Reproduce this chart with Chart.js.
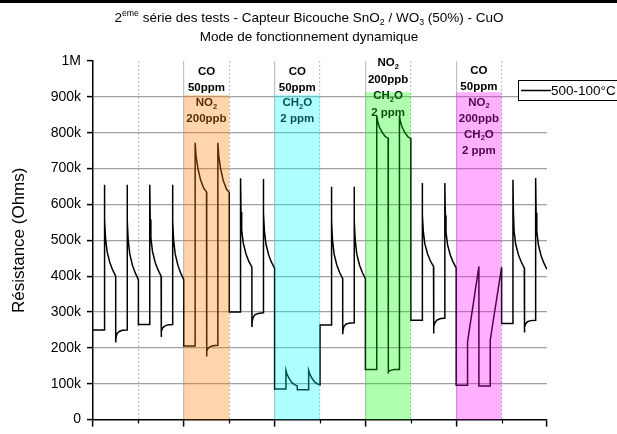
<!DOCTYPE html>
<html>
<head>
<meta charset="utf-8">
<script src="https://cdn.jsdelivr.net/npm/chart.js@4.4.1/dist/chart.umd.min.js"></script>
<style>
  html, body { margin: 0; padding: 0; background: #fff; }
  #wrap { position: relative; width: 617px; height: 434px; }
  #topRule { position: absolute; left: 0; top: 0; width: 617px; height: 3px; background: #000; }
</style>
</head>
<body>
<div id="wrap">
  <canvas id="capteurChart" width="617" height="434"></canvas>
  <div id="topRule"></div>
</div>
<script>
const FONT = "'Liberation Sans', Arial, sans-serif";

// Temps (unités de l'axe X) et résistance (kOhms), cycle 500-100°C
const temps = [
  0, 0.25,
  0.25, 0.26, 0.275, 0.31, 0.37, 0.43, 0.5,
  0.5, 0.51, 0.53, 0.57, 0.64, 0.75,
  0.75, 0.76, 0.775, 0.81, 0.87, 0.93, 1.0,
  1.0, 1.25,
  1.25, 1.26, 1.275, 1.31, 1.37, 1.43, 1.5,
  1.5, 1.51, 1.53, 1.57, 1.64, 1.75,
  1.75, 1.76, 1.775, 1.81, 1.87, 1.93, 2.0,
  2.0, 2.25,
  2.25, 2.27, 2.31, 2.37, 2.44, 2.5,
  2.5, 2.51, 2.53, 2.57, 2.64, 2.75,
  2.75, 2.77, 2.81, 2.87, 2.94, 3.0,
  3.0, 3.25,
  3.25, 3.26, 3.275, 3.31, 3.37, 3.43, 3.5,
  3.5, 3.51, 3.53, 3.57, 3.64, 3.75,
  3.75, 3.76, 3.775, 3.81, 3.87, 3.93, 4.0,
  4.0, 4.25,
  4.25, 4.27, 4.31, 4.38, 4.45, 4.5,
  4.5, 4.75,
  4.75, 4.77, 4.81, 4.88, 4.95, 5.0,
  5.0, 5.25,
  5.25, 5.26, 5.275, 5.31, 5.37, 5.43, 5.5,
  5.5, 5.51, 5.53, 5.57, 5.64, 5.75,
  5.75, 5.76, 5.775, 5.81, 5.87, 5.93, 6.0,
  6.0, 6.25,
  6.25, 6.27, 6.31, 6.37, 6.44, 6.5,
  6.5, 6.51, 6.53, 6.57, 6.64, 6.75,
  6.75, 6.77, 6.81, 6.87, 6.94, 7.0,
  7.0, 7.25,
  7.25, 7.26, 7.275, 7.31, 7.37, 7.43, 7.5,
  7.5, 7.51, 7.53, 7.57, 7.64, 7.75,
  7.75, 7.76, 7.775, 7.81, 7.87, 7.93, 8.0,
  8.0, 8.25,
  8.25, 8.5,
  8.5, 8.75,
  8.75, 9.0,
  9.0, 9.25,
  9.25, 9.26, 9.275, 9.31, 9.37, 9.43, 9.5,
  9.5, 9.51, 9.53, 9.57, 9.64, 9.75,
  9.75, 9.76, 9.775, 9.81, 9.87, 9.93, 10.0
];
const resistance = [
  250, 250,
  655, 558, 507, 469, 438, 418, 400,
  215, 231, 240, 245, 249, 250,
  655, 554, 501, 462, 430, 409, 390,
  265, 265,
  655, 558, 507, 469, 438, 418, 400,
  230, 246, 255, 260, 264, 265,
  655, 554, 501, 462, 430, 409, 390,
  205, 205,
  772, 735, 701, 668, 645, 635,
  176, 190, 198, 203, 206, 207,
  772, 735, 700, 666, 643, 633,
  300, 300,
  673, 579, 529, 492, 462, 442, 425,
  258, 276, 286, 293, 296, 298,
  671, 576, 527, 489, 459, 439, 422,
  85, 85,
  137, 128, 117, 103, 97, 94,
  83, 83,
  137, 129, 118, 105, 99, 97,
  264, 264,
  649, 552, 501, 462, 431, 411, 393,
  238, 252, 260, 266, 269, 270,
  649, 552, 501, 462, 431, 411, 393,
  140, 140,
  847, 832, 815, 801, 789, 785,
  128, 133, 136, 138, 140, 140,
  847, 832, 815, 800, 788, 784,
  277, 277,
  660, 571, 525, 490, 462, 443, 427,
  240, 259, 270, 277, 281, 283,
  660, 570, 523, 487, 459, 440, 423,
  96, 96,
  217, 427,
  94, 94,
  222, 425,
  268, 268,
  669, 576, 526, 489, 460, 440, 423,
  243, 258, 267, 273, 276, 277,
  674, 577, 526, 488, 457, 437, 419
];

// Zones d'injection des gaz
const bandStart = [2, 4, 6, 8];
const bandTop = [905, 905, 913, 913];
const bandGaz = [
  ['CO', '50ppm', 'NO_2', '200ppb'],
  ['CO', '50ppm', 'CH_2O', '2 ppm'],
  ['NO_2', '200ppb', 'CH_2O', '2 ppm'],
  ['CO', '50ppm', 'NO_2', '200ppb', 'CH_2O', '2 ppm']
];
const bandColors = ['rgba(255,128,0,0.33)', 'rgba(0,255,255,0.31)', 'rgba(0,255,0,0.31)', 'rgba(255,0,255,0.31)'];
const labelTop = [9.5, 9.5, 1, 9];
const labelGap = [15.9, 15.9, 16.6, 15.9];

const titreLignes = [
  '2^{eme} série des tests - Capteur Bicouche SnO_2 / WO_3 (50%) - CuO',
  'Mode de fonctionnement dynamique'
];

// petit parseur: _2 ou _{..} = indice, ^{..} = exposant
function parseRich(str) {
  const parts = [];
  const re = /_\{([^}]*)\}|_(\w)|\^\{([^}]*)\}/g;
  let last = 0, m;
  while ((m = re.exec(str))) {
    if (m.index > last) parts.push([str.slice(last, m.index), 'n']);
    if (m[1] !== undefined) parts.push([m[1], 'sub']);
    else if (m[2] !== undefined) parts.push([m[2], 'sub']);
    else parts.push([m[3], 'sup']);
    last = re.lastIndex;
  }
  if (last < str.length) parts.push([str.slice(last), 'n']);
  return parts;
}

function drawRich(c, str, cx, cy, size, weight) {
  const parts = parseRich(str);
  const fontFor = t => `${weight} ${t === 'n' ? size : size * 0.65}px ${FONT}`;
  let w = 0;
  parts.forEach(p => { c.font = fontFor(p[1]); w += c.measureText(p[0]).width; });
  let x = cx - w / 2;
  c.textAlign = 'left';
  c.textBaseline = 'alphabetic';
  const base = cy + size * 0.36;
  parts.forEach(p => {
    c.font = fontFor(p[1]);
    const dy = p[1] === 'sub' ? size * 0.22 : (p[1] === 'sup' ? -size * 0.42 : 0);
    c.fillText(p[0], x, base + dy);
    x += c.measureText(p[0]).width;
  });
}

const decor = {
  id: 'decor',
  afterDatasetsDraw(chart) {
    const c = chart.ctx, xs = chart.scales.x, ys = chart.scales.y, area = chart.chartArea;
    c.save();

    // graduations secondaires
    c.strokeStyle = '#000';
    c.lineWidth = 1.2;
    c.beginPath();
    ys.ticks.forEach(t => {
      if (t.value % 100) {
        const y = Math.round(ys.getPixelForValue(t.value)) + 0.5;
        c.moveTo(area.left - 3, y); c.lineTo(area.left, y);
      }
    });
    xs.ticks.forEach(t => {
      if (t.value % 2) {
        const x = Math.round(xs.getPixelForValue(t.value)) + 0.5;
        c.moveTo(x, area.bottom); c.lineTo(x, area.bottom + 4);
      }
    });
    c.stroke();

    // étiquettes des gaz
    c.fillStyle = '#000';
    bandStart.forEach((s, i) => {
      const cx = (xs.getPixelForValue(s) + xs.getPixelForValue(s + 1)) / 2;
      bandGaz[i].forEach((txt, j) => {
        drawRich(c, txt, cx, area.top + labelTop[i] + j * labelGap[i], 11.5, 'bold');
      });
    });

    // voile coloré des zones d'injection
    bandStart.forEach((s, i) => {
      const x0 = xs.getPixelForValue(s), x1 = xs.getPixelForValue(s + 1);
      const y0 = ys.getPixelForValue(0), y1 = ys.getPixelForValue(bandTop[i]);
      c.fillStyle = bandColors[i];
      c.fillRect(x0, y1, x1 - x0, y0 - y1);
    });

    // légende encadrée
    const ds = chart.data.datasets[0];
    c.fillStyle = '#fff';
    c.fillRect(518.5, 80.5, 110, 20);
    c.strokeStyle = '#000';
    c.lineWidth = 1;
    c.strokeRect(518.5, 80.5, 110, 20);
    c.lineWidth = ds.borderWidth;
    c.beginPath(); c.moveTo(521, 90.5); c.lineTo(551, 90.5); c.stroke();
    c.fillStyle = '#000';
    c.font = `13.5px ${FONT}`;
    c.textAlign = 'left';
    c.textBaseline = 'middle';
    c.fillText(ds.label, 551, 91);

    // titre
    drawRich(c, titreLignes[0], 309, 17, 13.5, 'normal');
    drawRich(c, titreLignes[1], 309, 36.5, 13.5, 'normal');

    c.restore();
  }
};

Chart.defaults.font.family = FONT;
Chart.defaults.color = '#000';

const ctx = document.getElementById('capteurChart').getContext('2d');
new Chart(ctx, {
  type: 'line',
  data: {
    datasets: [{
      label: '500-100°C',
      data: temps.map((t, i) => ({ x: t, y: resistance[i] })),
      borderColor: '#000',
      borderWidth: 1.5,
      pointRadius: 0,
      tension: 0,
      fill: false
    }]
  },
  options: {
    responsive: false,
    animation: false,
    layout: { padding: { top: 61, right: 70, bottom: 1, left: 0 } },
    plugins: {
      legend: { display: false },
      tooltip: { enabled: false },
      title: { display: false }
    },
    scales: {
      x: {
        type: 'linear',
        min: 0,
        max: 10,
        ticks: { stepSize: 1, display: false },
        grid: {
          color: c => (c.tick.value === 0 || c.tick.value === 10) ? 'rgba(0,0,0,0)' : (c.tick.value % 2 ? '#c4c4c4' : '#c0c0c0'),
          lineWidth: 1.2,
          tickLength: 7,
          tickWidth: 1.5,
          tickColor: c => c.tick.value % 2 ? 'rgba(0,0,0,0)' : '#000'
        },
        border: {
          color: '#000',
          width: 1.5,
          dash: c => (c.tick && c.tick.value % 2) ? [2, 2] : []
        }
      },
      y: {
        min: 0,
        max: 1000,
        ticks: {
          stepSize: 50,
          padding: 6,
          font: { size: 14 },
          color: '#000',
          callback: v => v % 100 ? '' : (v === 1000 ? '1M' : (v === 0 ? '0' : v + 'k'))
        },
        grid: {
          color: c => (c.tick.value === 0 || c.tick.value === 1000) ? 'rgba(0,0,0,0)' : (c.tick.value % 100 ? '#c4c4c4' : '#a0a0a0'),
          lineWidth: 1.2,
          tickLength: 6,
          tickWidth: 1.5,
          tickColor: c => c.tick.value % 100 ? 'rgba(0,0,0,0)' : '#000'
        },
        border: {
          color: '#000',
          width: 1.5,
          dash: c => (c.tick && c.tick.value % 100) ? [2, 2] : []
        },
        title: {
          display: true,
          text: 'Résistance (Ohms)',
          font: { size: 17 },
          color: '#000',
          padding: { top: 9, bottom: 0 }
        },
        afterFit: scale => { scale.width = 93; }
      }
    }
  },
  plugins: [decor]
});
</script>
</body>
</html>
